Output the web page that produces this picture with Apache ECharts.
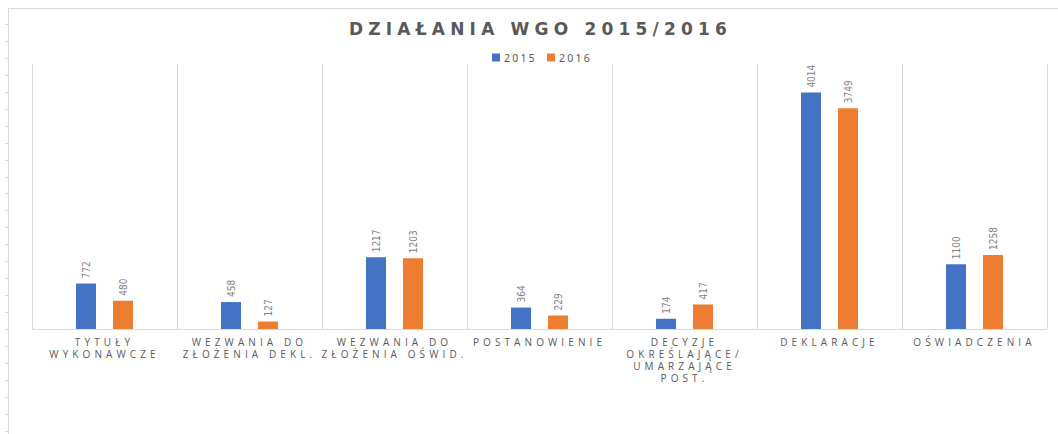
<!DOCTYPE html>
<html>
<head>
<meta charset="utf-8">
<script src="https://cdn.jsdelivr.net/npm/echarts@6/dist/echarts.min.js"></script>
<style>
html,body{margin:0;padding:0;background:#fff;}
#c{width:1058px;height:434px;}
#c text[style*="Open Sans"]{letter-spacing:4.1px;}
#c text[style*="DejaVu Sans"][style*="bold"]{letter-spacing:5.2px;}
#c text[style*="Noto Sans"]{letter-spacing:2.2px;}
</style>
</head>
<body>
<div id="c"></div>
<script>
const titleText = 'DZIAŁANIA WGO 2015/2016';
const categories = [
  'TYTUŁY\nWYKONAWCZE',
  'WEZWANIA DO\nZŁOŻENIA DEKL.',
  'WEZWANIA DO\nZŁOŻENIA OŚWID.',
  'POSTANOWIENIE',
  'DECYZJE\nOKREŚLAJĄCE/\nUMARZAJĄCE\nPOST.',
  'DEKLARACJE',
  'OŚWIADCZENIA'
];
const seriesNames = ['2015', '2016'];
const values2015 = [772, 458, 1217, 364, 174, 4014, 1100];
const values2016 = [480, 127, 1203, 229, 417, 3749, 1258];

const chart = echarts.init(document.getElementById('c'), null, {renderer: 'svg'});

const leftTicks = [];
for (let y = 24; y < 434; y += 16.95) {
  leftTicks.push({type: 'line', shape: {x1: 5, y1: Math.round(y) + 0.5, x2: 8, y2: Math.round(y) + 0.5}, style: {stroke: '#d9d9d9', lineWidth: 1}, silent: true});
}

const labelCfg = {
  show: true,
  position: 'top',
  rotate: 90,
  align: 'left',
  verticalAlign: 'middle',
  distance: 5,
  color: '#7f7f7f',
  fontSize: 10,
  fontFamily: "'Liberation Sans Narrow', 'DejaVu Sans Condensed', sans-serif"
};

chart.setOption({
  animation: false,
  backgroundColor: '#ffffff',
  title: {
    text: titleText,
    left: 344,
    top: 15,
    textStyle: {color: '#595959', fontSize: 17, fontWeight: 'bold', fontFamily: 'DejaVu Sans'}
  },
  legend: {
    data: seriesNames,
    top: 47,
    left: 487,
    itemWidth: 8,
    itemHeight: 8,
    itemGap: 19,
    icon: 'rect',
    textStyle: {color: '#595959', fontSize: 10.5, fontFamily: 'Noto Sans', padding: [0, 0, 0, -1]}
  },
  grid: {left: 32, right: 11, top: 64, bottom: 105, containLabel: false},
  xAxis: {
    type: 'category',
    data: categories,
    axisLine: {show: true, lineStyle: {color: '#d9d9d9', width: 1}},
    axisTick: {show: false},
    splitLine: {show: true, lineStyle: {color: '#d9d9d9', width: 1}},
    axisLabel: {
      interval: 0,
      color: '#595959',
      fontSize: 10,
      fontFamily: 'Open Sans',
      lineHeight: 12,
      margin: 7
    }
  },
  yAxis: {
    type: 'value',
    min: 0,
    max: 4500,
    show: false,
    splitLine: {show: false}
  },
  series: [
    {name: seriesNames[0], type: 'bar', data: values2015, barWidth: 20, barGap: '85%', itemStyle: {color: '#4472C4'}, label: labelCfg},
    {name: seriesNames[1], type: 'bar', data: values2016, barWidth: 20, barGap: '85%', itemStyle: {color: '#ED7D31'}, label: labelCfg}
  ],
  graphic: [
    {type: 'line', shape: {x1: 8, y1: 8.5, x2: 1058, y2: 8.5}, style: {stroke: '#d9d9d9', lineWidth: 1}, silent: true},
    {type: 'line', shape: {x1: 8.5, y1: 8, x2: 8.5, y2: 434}, style: {stroke: '#d9d9d9', lineWidth: 1}, silent: true}
  ].concat(leftTicks)
});
</script>
</body>
</html>
